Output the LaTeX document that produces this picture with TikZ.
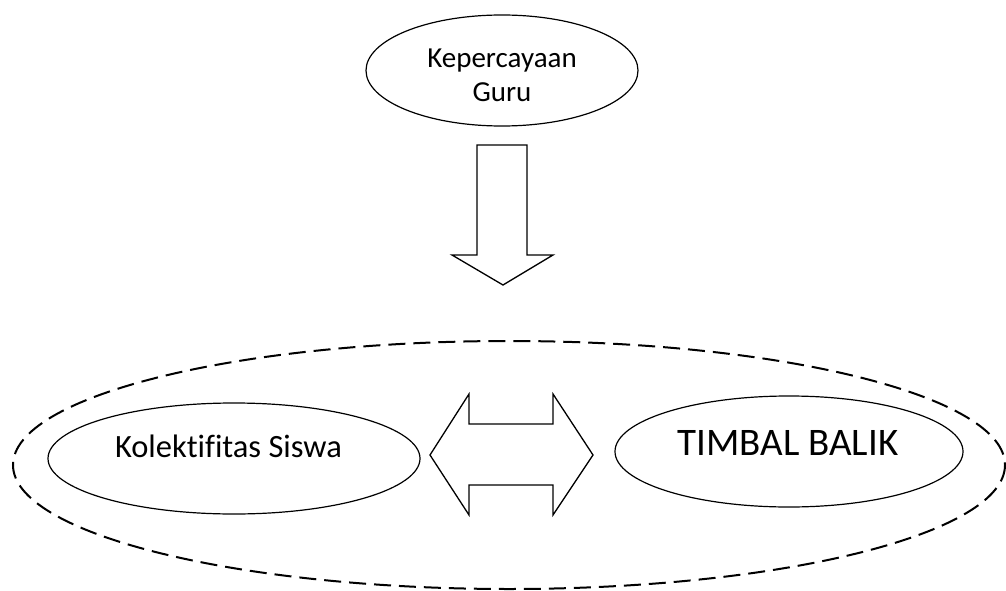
\documentclass[tikz,border=0pt]{standalone}
\usepackage{fontspec}
\setmainfont[Ligatures=NoCommon]{Carlito}
\usetikzlibrary{shapes.geometric}
\begin{document}
\begin{tikzpicture}[x=1pt,y=-1pt,
  oval/.style={draw=black,line width=1.2pt,ellipse,inner sep=0pt,fill=white},
  outer/.style={draw=black,line width=2pt,dash pattern=on 17pt off 8pt},
  blockarrow/.style={draw=black,line width=1.3pt,fill=white,line join=miter},
  lbl/.style={inner sep=0pt,align=center}]
\useasboundingbox (0,0) rectangle (1006,591);
% outer dashed ellipse
\draw[outer] (509,465) ellipse [x radius=496, y radius=124];
% top ellipse
\node[oval,minimum width=272pt,minimum height=111pt] (top) at (502,70.5) {};
\node[lbl,font=\fontsize{29}{34}\selectfont] (toptext) at (502,75) {Kepercayaan\\Guru};
% left ellipse
\node[oval,minimum width=372pt,minimum height=111pt] (left) at (234,458.5) {};
\node[lbl,font=\fontsize{32.5}{38}\selectfont,anchor=base] (lefttext) at (228.5,457) {Kolektifitas Siswa};
% right ellipse
\node[oval,minimum width=348pt,minimum height=111pt] (right) at (789,451.5) {};
\node[lbl,font=\fontsize{39}{46}\selectfont,anchor=base] (righttext) at (788,455) {TIMBAL BALIK};
% down block arrow
\draw[blockarrow] (477,145) -- (527,145) -- (527,255) -- (553,255) -- (503,285)
  -- (452,255) -- (477,255) -- cycle;
% double block arrow
\draw[blockarrow] (430,455) -- (469,394) -- (469,424) -- (553,424) -- (553,394)
  -- (593,455) -- (553,515) -- (553,485) -- (469,485) -- (469,515) -- cycle;
\end{tikzpicture}
\end{document}
